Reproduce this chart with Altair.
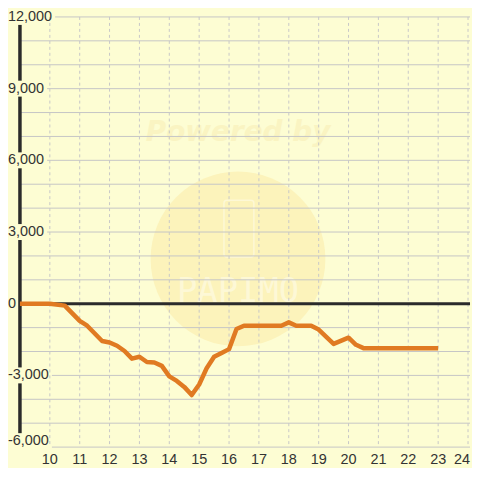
import altair as alt
import pandas as pd

# ---- data ----
hours = [9, 10, 10.5, 11, 11.25, 11.75, 12, 12.25, 12.5, 12.75,
         13, 13.25, 13.5, 13.75, 14, 14.25, 14.5, 14.75, 15, 15.25,
         15.5, 15.75, 16, 16.25, 16.5, 17.75, 18, 18.25, 18.75, 19,
         19.5, 20, 20.25, 20.5, 23]
values = [0, 0, -80, -720, -920, -1560, -1620, -1760, -1980, -2300,
          -2220, -2440, -2460, -2600, -3040, -3230, -3480, -3820, -3380, -2700,
          -2220, -2060, -1900, -1060, -920, -920, -780, -920, -920, -1080,
          -1680, -1420, -1720, -1860, -1860]

x_ticks = list(range(10, 25))
y_grid = list(range(-6000, 12001, 1000))
y_labels = list(range(-6000, 12001, 3000))

# ---- layout / style ----
PX_PER_HOUR = 30
W, H = 452, 432
X0 = 9
X1 = X0 + W / PX_PER_HOUR
Y0, Y1 = -6000, 12000
PX_X = W / (X1 - X0)
PX_Y = H / (Y1 - Y0)
FONT = "Liberation Sans"
FS = 14.5
LAB_PAD = 12
BG = "#fdfdd3"
INK = "#333333"
AXIS_BLACK = "#2b2b2b"
ORANGE = "#e07a22"


def text_width(s):
    return sum({",": 0.278, "-": 0.333}.get(c, 0.556) for c in s) * FS


def label_shift(v):
    # pixels the label is nudged up (bottom label sits above its line)
    return 6 if v == Y0 else 0


# horizontal gridlines (masked at the left by label backgrounds)
hg = []
for v in y_grid:
    if v == 0:
        continue
    start = X0
    if v in y_labels:
        end_px = -LAB_PAD + text_width(f"{v:,}") + 3
        if end_px > 0:
            start = X0 + end_px / PX_X
    hg.append({"y": v, "xs": start, "xe": X1})
hgrid_df = pd.DataFrame(hg)

# black y-axis line, broken where labels sit on it
gaps = []
for v in y_labels:
    if text_width(f"{v:,}") > LAB_PAD + 1:
        c = v + label_shift(v) / PX_Y
        gaps.append((c - 8 / PX_Y, c + 8 / PX_Y))
gaps.sort()
segs = []
cur = Y0
for lo, hi in gaps:
    if lo > cur:
        segs.append({"x": X0, "y1": cur, "y2": min(lo, Y1)})
    cur = max(cur, hi)
if cur < Y1:
    segs.append({"x": X0, "y1": cur, "y2": Y1})
axis_df = pd.DataFrame(segs)

ylab_df = pd.DataFrame({
    "x": [X0] * len(y_labels),
    "y": [v + label_shift(v) / PX_Y for v in y_labels],
    "t": [f"{v:,}" for v in y_labels],
})
# keep the last x label inside the page
xlab_pos = []
for v in x_ticks:
    right_px = (v - X0) * PX_X + text_width(str(v)) / 2
    xlab_pos.append(v - max(0, right_px - W) / PX_X)
xlab_df = pd.DataFrame({"x": xlab_pos, "y": [Y0] * len(x_ticks), "t": [str(v) for v in x_ticks]})

xs = alt.Scale(domain=[X0, X1], nice=False, zero=False)
ys = alt.Scale(domain=[Y0, Y1], nice=False, zero=False)


def X(field):
    return alt.X(field, scale=xs, axis=None, title=None)


def Y(field):
    return alt.Y(field, scale=ys, axis=None, title=None)


# watermark
wm_circle = alt.Chart(pd.DataFrame({"x": [16.3], "y": [1875]})).mark_circle(
    size=30800, color="#fcf3bb", opacity=1
).encode(x=X("x:Q"), y=Y("y:Q"))

wm_text1 = alt.Chart(pd.DataFrame({"x": [16.3], "y": [7125], "t": ["Powered by"]})).mark_text(
    font="DejaVu Sans", fontWeight="bold", fontStyle="italic", fontSize=28, color="#faf4c2"
).encode(x=X("x:Q"), y=Y("y:Q"), text="t:N")

wm_text2 = alt.Chart(pd.DataFrame({"x": [16.3], "y": [500], "t": ["PAPIMO"]})).mark_text(
    font="DejaVu Sans Mono", fontSize=34, color="#fdf8d6"
).encode(x=X("x:Q"), y=Y("y:Q"), text="t:N")

wm_phone = alt.Chart(pd.DataFrame({"x": [15.83], "x2": [16.83], "y": [4333], "y2": [1958]})).mark_rect(
    fillOpacity=0, stroke="#fdf8d6", strokeWidth=1.5, cornerRadius=3
).encode(x=X("x:Q"), x2="x2:Q", y=Y("y:Q"), y2="y2:Q")

hgrid = alt.Chart(hgrid_df).mark_rule(color="#c6c6c6", strokeWidth=1).encode(
    x=X("xs:Q"), x2="xe:Q", y=Y("y:Q"))

vgrid = alt.Chart(pd.DataFrame({"x": x_ticks})).mark_rule(
    color="#c8c8c8", strokeWidth=1, strokeDash=[3, 3]
).encode(x=X("x:Q"))

zero = alt.Chart(pd.DataFrame({"y": [0]})).mark_rule(color=AXIS_BLACK, strokeWidth=3).encode(
    y=Y("y:Q"))

yline = alt.Chart(axis_df).mark_rule(color=AXIS_BLACK, strokeWidth=3.5).encode(
    x=X("x:Q"), y=Y("y1:Q"), y2="y2:Q")

ylabels = alt.Chart(ylab_df).mark_text(
    align="left", baseline="middle", dx=-LAB_PAD, font=FONT, fontSize=FS, color=INK
).encode(x=X("x:Q"), y=Y("y:Q"), text="t:N")

xlabels = alt.Chart(xlab_df).mark_text(
    align="center", baseline="top", dy=6, font=FONT, fontSize=FS, color=INK
).encode(x=X("x:Q"), y=Y("y:Q"), text="t:N")

line = alt.Chart(pd.DataFrame({"hour": hours, "value": values})).mark_line(
    color=ORANGE, strokeWidth=4.5, strokeJoin="round"
).encode(x=X("hour:Q"), y=Y("value:Q"))

chart = alt.layer(
    wm_circle, wm_text1, wm_phone, wm_text2, hgrid, vgrid, zero, yline,
    ylabels, xlabels, line
).properties(
    width=W, height=H, background=BG, padding=0
).configure_view(
    stroke=None, fill=BG
)

chart.save("out.html", embed_options={"renderer": "svg", "actions": False})
